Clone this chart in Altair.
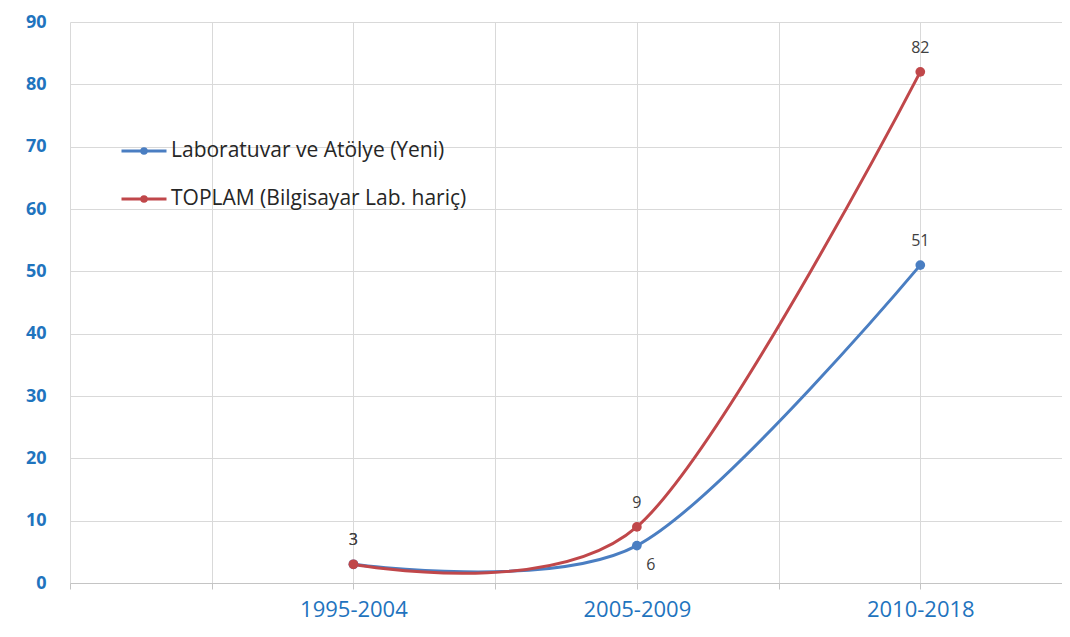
import altair as alt
import pandas as pd

# ---- data ----
categories = ["1995-2004", "2005-2009", "2010-2018"]
series_names = ["Laboratuvar ve Atölye (Yeni)", "TOPLAM (Bilgisayar Lab. hariç)"]
lab_values = [3, 6, 51]
total_values = [3, 9, 82]
series_colors = ["#4A7EC2", "#C0474A"]
y_ticks = [0, 10, 20, 30, 40, 50, 60, 70, 80, 90]

# categories sit on every second slot of a 0..7 axis (as in the original sheet)
slot_of = {c: 2 * (i + 1) for i, c in enumerate(categories)}
rows = []
for name, vals in zip(series_names, [lab_values, total_values]):
    for cat, v in zip(categories, vals):
        rows.append({"series": name, "period": cat, "slot": slot_of[cat], "value": v})
df = pd.DataFrame(rows)

label_expr = " : ".join(
    [f"datum.value == {slot_of[c]} ? '{c}'" for c in categories]
) + " : ''"

FONT = "Open Sans"
AXIS_BLUE = "#1F74BE"

x_enc = alt.X(
    "slot:Q",
    scale=alt.Scale(domain=[0, 7], nice=False, zero=False),
    axis=alt.Axis(
        values=list(range(0, 8)),
        labelExpr=label_expr,
        title=None,
        grid=True,
        gridColor="#d9d9d9",
        domainColor="#c4c4c4",
        tickColor="#c4c4c4",
        tickSize=6,
        labelPadding=10,
        labelFont=FONT,
        labelFontSize=22,
        labelColor=AXIS_BLUE,
        labelFlush=False,
    ),
)
y_enc = alt.Y(
    "value:Q",
    scale=alt.Scale(domain=[0, 90], nice=False),
    axis=alt.Axis(
        values=y_ticks,
        title=None,
        grid=True,
        gridColor="#d9d9d9",
        domain=False,
        ticks=False,
        labelPadding=24,
        labelFont=FONT,
        labelFontSize=18,
        labelFontWeight="bold",
        labelColor=AXIS_BLUE,
    ),
)

color_scale = alt.Scale(domain=series_names, range=series_colors)
legend = alt.Legend(
    title=None,
    orient="none",
    legendX=50,
    legendY=105,
    direction="vertical",
    symbolType="M-1,0L1,0M0.1,0A0.1,0.1,0,1,1,-0.1,0A0.1,0.1,0,1,1,0.1,0Z",
    symbolSize=2025,
    symbolStrokeWidth=3,
    rowPadding=14,
    labelOffset=3,
    labelFont=FONT,
    labelFontSize=21,
    labelColor="#262626",
    labelLimit=0,
)

base = alt.Chart(df)

lines = base.mark_line(interpolate="cardinal", tension=0.1, strokeWidth=3).encode(
    x=x_enc,
    y=y_enc,
    color=alt.Color("series:N", scale=color_scale, legend=legend),
    order=alt.Order("slot:Q"),
)

points = base.mark_circle(size=95, opacity=1).encode(
    x="slot:Q",
    y="value:Q",
    color=alt.Color("series:N", scale=color_scale, legend=None),
)

is_six = f"datum.series == '{series_names[0]}' && datum.period == '{categories[1]}'"

labels_above = base.transform_filter(f"!({is_six})").mark_text(
    dy=-24, font=FONT, fontSize=16, color="#404040"
).encode(x="slot:Q", y="value:Q", text="value:Q")

labels_below = base.transform_filter(is_six).mark_text(
    dx=14, dy=19, font=FONT, fontSize=16, color="#404040"
).encode(x="slot:Q", y="value:Q", text="value:Q")

chart = (
    alt.layer(lines, points, labels_above, labels_below)
    .properties(
        width=992,
        height=561,
        autosize=alt.AutoSizeParams(type="none"),
        padding={"left": 62, "top": 14, "right": 0, "bottom": 40},
        background="white",
    )
    .configure_view(stroke=None)
)

chart.save("out.html", embed_options={"renderer": "svg", "actions": False})
